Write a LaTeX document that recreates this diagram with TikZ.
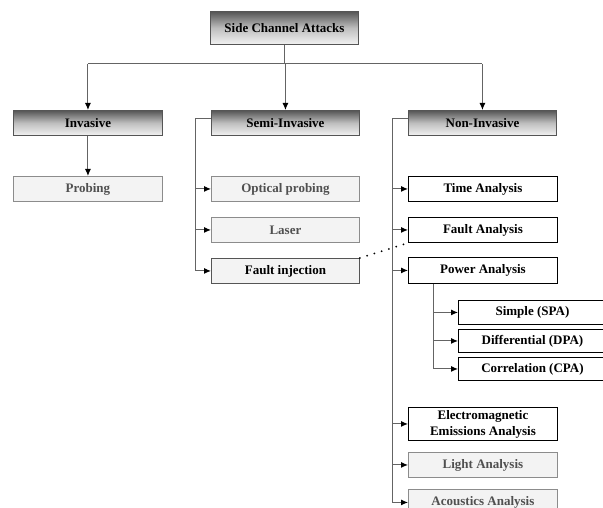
\documentclass[tikz,border=0pt]{standalone}
\usepackage{fontspec}
\setmainfont{Liberation Serif}
\usetikzlibrary{arrows.meta,calc}
\definecolor{hdtop}{RGB}{85,85,85}
\definecolor{hdmid}{RGB}{190,190,190}
\definecolor{hdbot}{RGB}{242,242,242}
\definecolor{hdline}{RGB}{85,85,85}
\definecolor{gfill}{RGB}{243,243,243}
\definecolor{gline}{RGB}{140,140,140}
\definecolor{gtext}{RGB}{80,80,80}
\definecolor{conncol}{RGB}{100,100,100}
\tikzset{
  basebox/.style={anchor=north west, inner sep=0pt, align=center, font=\fontsize{13}{16}\selectfont\bfseries, line width=0.9pt},
  header/.style={basebox, draw=hdline, top color=hdtop, bottom color=hdbot, middle color=hdmid},
  greybox/.style={basebox, draw=gline, fill=gfill, text=gtext},
  fibox/.style={basebox, draw=hdline, fill=gfill, text=black},
  whitebox/.style={basebox, draw=black, fill=white, text=black},
  conn/.style={draw=conncol, line width=1pt},
  arr/.style={conn, -{Latex[black,length=7pt,width=6pt]}},
}
\begin{document}
\begin{tikzpicture}[x=1pt,y=-1pt]
\useasboundingbox (0,0) rectangle (603,508);
\clip (0,0) rectangle (603,508);
% nodes
\node[header, minimum width=148pt, minimum height=33pt] (sca) at (210,11) {Side Channel Attacks};
\node[header, minimum width=149pt, minimum height=25pt] (inv) at (13,110) {Invasive};
\node[header, minimum width=148pt, minimum height=25pt] (semi) at (211,110) {Semi-Invasive};
\node[header, minimum width=148pt, minimum height=25pt] (non) at (408,110) {Non-Invasive};
\node[greybox, minimum width=149pt, minimum height=25pt] (prob) at (13,176) {Probing};
\node[greybox, minimum width=148pt, minimum height=25pt] (opt) at (211,176) {Optical probing};
\node[greybox, minimum width=148pt, minimum height=25pt] (laser) at (211,217) {Laser};
\node[fibox, minimum width=148pt, minimum height=25pt] (fi) at (211,258) {Fault injection};
\node[whitebox, minimum width=149pt, minimum height=25pt] (time) at (408,176) {Time Analysis};
\node[whitebox, minimum width=149pt, minimum height=25pt] (fa) at (408,217) {Fault Analysis};
\node[whitebox, minimum width=149pt, minimum height=26pt] (pa) at (408,257) {Power Analysis};
\node[whitebox, minimum width=148pt, minimum height=24pt] (spa) at (458,300) {Simple (SPA)};
\node[whitebox, minimum width=148pt, minimum height=23pt] (dpa) at (458,329) {Differential (DPA)};
\node[whitebox, minimum width=148pt, minimum height=23pt] (cpa) at (458,357) {Correlation (CPA)};
\node[whitebox, minimum width=149pt, minimum height=33pt] (em) at (408,407) {Electromagnetic\\Emissions Analysis};
\node[greybox, minimum width=149pt, minimum height=25pt] (light) at (408,452) {Light Analysis};
\node[greybox, minimum width=149pt, minimum height=26pt] (ac) at (408,489) {Acoustics Analysis};
% bus coordinates
\coordinate (bus) at (0,64);
\coordinate (sbus) at (195,0);
\coordinate (nbus) at (392,0);
\coordinate (pbus) at (433,0);
% top level
\draw[conn] (sca.south) -- (sca.south |- bus);
\draw[conn] (inv.north |- bus) -- (non.north |- bus);
\draw[arr] (inv.north |- bus) -- (inv.north);
\draw[arr] (semi.north |- bus) -- (semi.north);
\draw[arr] (non.north |- bus) -- (non.north);
% invasive
\draw[arr] (inv.south) -- (prob.north);
% semi-invasive
\coordinate (s0) at ($(semi.north west)+(0,9)$);
\draw[conn] (s0) -| (sbus |- fi.west);
\draw[arr] (sbus |- opt.west) -- (opt.west);
\draw[arr] (sbus |- laser.west) -- (laser.west);
\draw[arr] (sbus |- fi.west) -- (fi.west);
% non-invasive
\coordinate (n0) at ($(non.north west)+(0,9)$);
\draw[conn] (n0) -| (nbus |- ac.west);
\draw[arr] (nbus |- time.west) -- (time.west);
\draw[arr] (nbus |- fa.west) -- (fa.west);
\draw[arr] (nbus |- pa.west) -- (pa.west);
\draw[arr] (nbus |- em.west) -- (em.west);
\draw[arr] (nbus |- light.west) -- (light.west);
\draw[arr] (nbus |- ac.west) -- (ac.west);
% power analysis
\draw[conn] (pbus |- pa.south) -- (pbus |- cpa.west);
\draw[arr] (pbus |- spa.west) -- (spa.west);
\draw[arr] (pbus |- dpa.west) -- (dpa.west);
\draw[arr] (pbus |- cpa.west) -- (cpa.west);
% dotted link
\draw[black, line width=2pt, line cap=round, dash pattern=on 0pt off 7.6pt] (fi.north east) -- ($(fa.south west)+(-3,1)$);
\end{tikzpicture}
\end{document}
